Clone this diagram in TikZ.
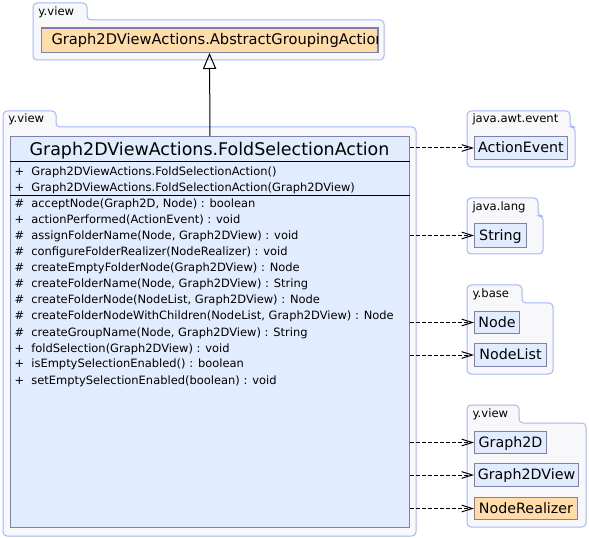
\documentclass[tikz,border=0pt]{standalone}
\usepackage{fontspec}
\setmainfont{DejaVu Sans}
\usetikzlibrary{arrows.meta}

\definecolor{pkgline}{RGB}{165,182,250}
\definecolor{pkgfill}{RGB}{248,248,250}
\definecolor{clsline}{RGB}{128,128,176}
\definecolor{clsfill}{RGB}{226,236,255}
\definecolor{absfill}{RGB}{255,220,168}

\tikzset{every picture/.style={line width=0.75pt}}
\tikzset{
    pkg/.style={draw=pkgline, fill=pkgfill, rounded corners=3pt},
    pkglabel/.style={anchor=base west, inner sep=0pt, font=\fontsize{8.7}{10}\selectfont},
    box/.style 2 args={minimum width=#1*0.75pt, minimum height=#2*0.75pt},
    cls/.style={draw=clsline, fill=clsfill, inner sep=0pt, anchor=north west,
        text height=0.73em, text depth=0pt, font=\fontsize{10.7}{12}\selectfont},
    clsname/.style={inner sep=0pt, text height=0.73em, text depth=0pt,
        font=\fontsize{10.7}{12}\selectfont},
    member/.style={anchor=base west, inner sep=0pt, font=\fontsize{8.6}{10}\selectfont},
    dep/.style={dash pattern=on 3pt off 1.5pt, -{Straight Barb[length=8pt,width=5pt]}},
}

\begin{document}
\begin{tikzpicture}[
            x=0.75pt,
            y=0.75pt,
            yscale=-1,
            xscale=1,
            every node/.style={text=black},
            line width=0.75pt
        ]
            \useasboundingbox (0,0) rectangle (589,538);

            % packages
            \draw[pkg] (33,60) -- (33,3) -- (87,3) -- (87,20) -- (384,20) -- (384,60) -- cycle;
            \draw[pkg] (3,536) -- (3,111) -- (56,111) -- (56,127) -- (416,127) -- (416,536) -- cycle;
            \draw[pkg] (467,167) -- (467,111) -- (570,111) -- (570,127) -- (575,127) -- (575,167) -- cycle;
            \draw[pkg] (467,254) -- (467,198) -- (538,198) -- (538,216) -- (543,216) -- (543,254) -- cycle;
            \draw[pkg] (467,374) -- (467,285) -- (522,285) -- (522,303) -- (553,303) -- (553,374) -- cycle;
            \draw[pkg] (467,527) -- (467,405) -- (519,405) -- (519,423) -- (586,423) -- (586,527) -- cycle;

            \node[pkglabel] (pkgtop) at (38,16) {y.view};
            \node[pkglabel] (pkgmain) at (8,123) {y.view};
            \node[pkglabel] (pkgawt) at (472,123) {java.awt.event};
            \node[pkglabel] (pkglang) at (472,211) {java.lang};
            \node[pkglabel] (pkgbase) at (472,297) {y.base};
            \node[pkglabel] (pkgview) at (472,417) {y.view};

            % super class, name cut off at the box edge
            \node[cls, fill=absfill, box={336}{24}] (agroup) at (41,28) {};
            \begin{scope}
                \clip (agroup.north west) rectangle (agroup.south east);
                \node[clsname, anchor=west, font=\fontsize{11}{12}\selectfont] (agroupname) at (51,40) {Graph2DViewActions.AbstractGroupingAction};
            \end{scope}
            \draw[clsline] (agroup.north west) rectangle (agroup.south east);

            % main class
            \node[cls, box={399}{391}] (fold) at (10,136) {};
            \node[anchor=base, inner sep=0pt, font=\fontsize{13.1}{15}\selectfont] (foldname) at (209.5,156) {Graph2DViewActions.FoldSelectionAction};
            \draw (fold.west |- 0,162) -- (fold.east |- 0,162);
            \draw (fold.west |- 0,196) -- (fold.east |- 0,196);

            \node[member] (c1) at (14,176) {+\ \ Graph2DViewActions.FoldSelectionAction()};
            \node[member] (c2) at (14,192) {+\ \ Graph2DViewActions.FoldSelectionAction(Graph2DView)};

            \foreach \txt [count=\k] in {
                    {\#\ \ acceptNode(Graph2D, Node) : boolean},
                    {+\ \ actionPerformed(ActionEvent) : void},
                    {\#\ \ assignFolderName(Node, Graph2DView) : void},
                    {\#\ \ configureFolderRealizer(NodeRealizer) : void},
                    {\#\ \ createEmptyFolderNode(Graph2DView) : Node},
                    {\#\ \ createFolderName(Node, Graph2DView) : String},
                    {\#\ \ createFolderNode(NodeList, Graph2DView) : Node},
                    {\#\ \ createFolderNodeWithChildren(NodeList, Graph2DView) : Node},
                    {\#\ \ createGroupName(Node, Graph2DView) : String},
                    {+\ \ foldSelection(Graph2DView) : void},
                    {+\ \ isEmptySelectionEnabled() : boolean},
                    {+\ \ setEmptySelectionEnabled(boolean) : void}}
                \node[member] (m\k) at (14,{192+16*\k}) {\txt};

            % used classes
            \node[cls, box={93}{23}] (actev) at (474,136) {ActionEvent};
            \node[cls, box={52}{24}] (string) at (474,223) {String};
            \node[cls, box={45}{22}] (node) at (474,311) {Node};
            \node[cls, box={72}{23}] (nodelist) at (474,343) {NodeList};
            \node[cls, box={72}{22}] (graph) at (474,431) {Graph2D};
            \node[cls, box={104}{23}] (gview) at (474,463) {Graph2DView};
            \node[cls, box={103}{22}, fill=absfill] (realizer) at (474,497) {NodeRealizer};

            % connectors
            \draw[-{Triangle[open,length=12pt,width=10pt]}] (fold.north) -- (agroup.south);
            \foreach \target in {actev,string,node,nodelist,graph,gview,realizer}
                \draw[dep] (fold.east |- \target.west) -- (\target.west);
        \end{tikzpicture}
\end{document}
